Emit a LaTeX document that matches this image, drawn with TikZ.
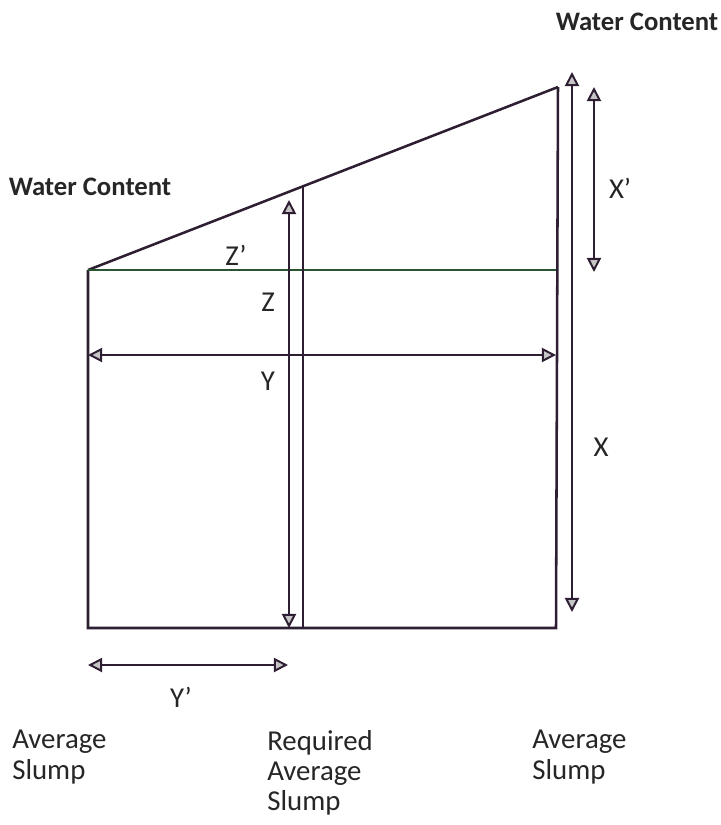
\documentclass[tikz,border=0pt]{standalone}
\usepackage{fontspec}
\setmainfont{Carlito}
\usetikzlibrary{arrows.meta}
\definecolor{inkline}{RGB}{45,30,50}
\definecolor{greenline}{RGB}{40,85,50}
\tikzset{
  edge/.style={line width=1.8pt,color=inkline},
  dim/.style={line width=1.4pt,color=inkline,
    {Triangle[width=10pt,length=10pt,fill=gray!45]}-{Triangle[width=10pt,length=10pt,fill=gray!45]}},
  lbl/.style={font=\fontsize{20.5}{21.5}\selectfont,inner sep=0pt,text=black!85},
  head/.style={font=\fontsize{19}{21}\selectfont\bfseries,inner sep=0pt,text=black!85}
}
\begin{document}
\begin{tikzpicture}[x=0.025cm,y=-0.025cm]
		\useasboundingbox (0,0) rectangle (721,825);
		
		% Corners of the figure
		\coordinate (bl) at (88,628);
		\coordinate (br) at (556,628);
		\coordinate (tl) at (88,270);
		\coordinate (tr) at (556,270);
		\coordinate (peak) at (558,87);
		\coordinate (rq) at (303,628);
		\coordinate (rqtop) at (303,187);
		
		% Outline
		\draw[edge] (tl) -- (bl) -- (br) -- (peak);
		\draw[edge] (tl) -- (peak);
		\draw[edge,color=greenline] (tl) -- (tr);
		\draw[edge] (rq) -- (rqtop);
		
		% Dimension arrows
		\coordinate (zT) at (289,200);
		\coordinate (zB) at (289,628);
		\coordinate (xT) at (572,72);
		\coordinate (xB) at (572,612);
		\coordinate (xpT) at (594,87);
		\coordinate (xpB) at (594,272);
		\coordinate (yL) at (88,355);
		\coordinate (yR) at (556,355);
		\coordinate (ypL) at (88,665);
		\coordinate (ypR) at (288,665);
		\draw[dim] (zT) -- (zB);
		\draw[dim] (xT) -- (xB);
		\draw[dim] (xpT) -- (xpB);
		\draw[dim] (yL) -- (yR);
		\draw[dim] (ypL) -- (ypR);
		
		% Labels
		\node[head] (wc1) at (637,22) {Water Content};
		\node[head] (wc2) at (90,187) {Water Content};
		\node[lbl] (zp) at (236,255) {Z’};
		\node[lbl] (z) at (268,302) {Z};
		\node[lbl] (y) at (268,381) {Y};
		\node[lbl] (xp) at (620,188) {X’};
		\node[lbl] (x) at (601,447) {X};
		\node[lbl] (yp) at (181,697) {Y’};
		
		% Slump labels
		\node[lbl,anchor=north west,align=left] (s1) at (12,730) {Average\\ Slump};
		\node[lbl,anchor=north west,align=left] (s2) at (267,730) {Required\\Average\\Slump};
		\node[lbl,anchor=north west,align=left] (s3) at (532,730) {Average\\Slump};
	\end{tikzpicture}
\end{document}
